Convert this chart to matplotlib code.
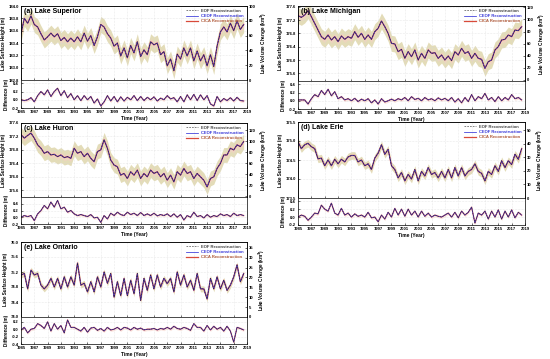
import numpy as np
import matplotlib.pyplot as plt

plt.rcParams['font.family'] = ['Liberation Sans', 'DejaVu Sans']
plt.rcParams['font.weight'] = 'bold'
plt.rcParams['axes.linewidth'] = 0.5

# semi-annual samples (Jan, Jul)
years = np.arange(1985, 2019, 0.5)

superior_h = [183.55, 183.80, 183.72, 183.84, 183.70, 183.66, 183.55, 183.45, 183.50, 183.56,
              183.50, 183.55, 183.44, 183.49, 183.42, 183.48, 183.42, 183.50, 183.42, 183.56,
              183.43, 183.52, 183.36, 183.50, 183.70, 183.66, 183.55, 183.48, 183.35, 183.40,
              183.19, 183.32, 183.16, 183.36, 183.24, 183.42, 183.18, 183.29, 183.21, 183.42,
              183.37, 183.40, 183.21, 183.26, 183.03, 183.14, 182.95, 183.22, 183.14, 183.32,
              183.19, 183.32, 183.11, 183.27, 183.11, 183.21, 183.03, 183.21, 183.02, 183.35,
              183.58, 183.66, 183.58, 183.72, 183.60, 183.76, 183.62, 183.70]
superior_d = [0.00, -0.02, 0.00, 0.05, -0.05, 0.10, 0.20, 0.12, 0.24, 0.08,
              0.20, 0.28, 0.10, 0.22, 0.05, 0.15, 0.00, 0.10, -0.02, 0.10,
              0.00, 0.08, -0.08, 0.02, -0.15, -0.05, 0.10, -0.03, 0.08, -0.05,
              0.07, -0.03, 0.06, 0.00, 0.10, -0.02, 0.08, -0.02, 0.06, 0.00,
              0.07, -0.03, 0.04, 0.00, 0.10, 0.02, 0.05, -0.05, 0.08, -0.05,
              0.12, 0.00, 0.13, -0.02, 0.12, 0.00, 0.10, -0.10, -0.15, 0.08,
              -0.05, 0.03, -0.02, 0.05, -0.03, 0.06, -0.02, -0.03]

michigan_h = [177.33, 177.28, 177.35, 177.48, 177.30, 177.10, 176.90, 176.70, 176.62, 176.75,
              176.60, 176.70, 176.55, 176.72, 176.62, 176.70, 176.65, 176.85, 176.68, 176.80,
              176.62, 176.75, 176.62, 176.85, 176.95, 177.17, 177.00, 176.80, 176.50, 176.48,
              176.25, 176.32, 176.05, 176.25, 176.10, 176.30, 176.00, 176.20, 176.05, 176.30,
              176.20, 176.22, 176.05, 176.15, 176.00, 176.12, 175.98, 176.25, 176.15, 176.35,
              176.20, 176.25, 176.05, 176.20, 176.05, 176.02, 175.75, 175.95, 176.00, 176.30,
              176.40, 176.60, 176.62, 176.75, 176.70, 176.90, 176.88, 177.00]
michigan_d = [0.02, 0.02, 0.02, -0.08, 0.05, 0.15, 0.10, 0.25, 0.15, 0.28,
              0.12, 0.22, 0.05, 0.10, 0.02, 0.05, 0.00, 0.06, -0.02, 0.04,
              0.00, 0.05, -0.05, 0.02, -0.08, 0.05, -0.03, 0.00, 0.04, 0.00,
              0.05, 0.02, 0.08, 0.00, 0.10, 0.03, 0.06, 0.00, 0.08, 0.02,
              0.05, 0.00, 0.07, 0.02, 0.06, 0.00, 0.08, -0.03, 0.05, -0.05,
              0.08, -0.02, 0.15, 0.00, 0.10, 0.05, 0.18, 0.02, 0.08, -0.02,
              0.10, 0.00, 0.08, 0.02, 0.15, 0.05, 0.08, 0.02]

huron_h = [177.25, 177.15, 177.23, 177.30, 177.15, 176.95, 176.85, 176.70, 176.75, 176.65,
           176.67, 176.60, 176.65, 176.57, 176.60, 176.55, 176.85, 176.70, 176.75, 176.60,
           176.70, 176.55, 176.45, 176.75, 176.80, 177.10, 176.85, 176.50, 176.35, 176.30,
           176.05, 176.10, 175.95, 176.15, 176.05, 176.20, 175.95, 176.10, 176.00, 176.20,
           176.10, 176.15, 176.00, 176.10, 175.90, 176.05, 175.85, 176.15, 176.05, 176.25,
           176.10, 176.15, 175.95, 176.10, 176.00, 175.90, 175.70, 175.95, 176.00, 176.25,
           176.40, 176.65, 176.65, 176.85, 176.80, 176.95, 176.90, 177.05]
huron_d = [0.00, 0.05, 0.02, 0.05, -0.10, 0.10, 0.20, 0.35, 0.25, 0.45,
           0.30, 0.50, 0.25, 0.30, 0.15, 0.20, 0.10, 0.05, 0.08, 0.05,
           0.02, 0.08, -0.02, 0.00, -0.15, 0.05, -0.05, 0.12, 0.05, 0.15,
           0.08, 0.05, 0.15, 0.08, 0.12, 0.05, 0.14, 0.05, 0.10, 0.05,
           0.12, 0.04, 0.08, 0.05, 0.10, 0.02, 0.10, 0.00, 0.08, -0.08,
           0.05, 0.00, 0.15, 0.02, 0.05, -0.02, 0.08, 0.00, 0.05, 0.02,
           0.10, 0.05, 0.08, 0.02, 0.12, 0.05, 0.08, 0.05]

erie_h = [174.98, 174.80, 174.90, 174.94, 174.85, 174.80, 174.53, 174.55, 174.35, 174.50,
          174.35, 174.52, 174.40, 174.52, 174.45, 174.58, 174.62, 174.62, 174.45, 174.50,
          174.35, 174.40, 174.25, 174.55, 174.68, 174.90, 174.65, 174.78, 174.35, 174.25,
          174.03, 174.17, 173.95, 174.12, 174.00, 174.25, 173.95, 174.20, 174.08, 174.30,
          174.12, 174.17, 174.03, 174.20, 174.03, 174.25, 174.03, 174.30, 174.08, 174.30,
          174.08, 174.20, 174.25, 174.40, 174.20, 174.15, 173.95, 174.20, 174.12, 174.35,
          174.20, 174.48, 174.30, 174.48, 174.38, 174.65, 174.52, 174.80]
erie_d = [0.00, 0.05, 0.02, -0.08, 0.00, 0.10, 0.08, 0.30, 0.20, 0.15,
          0.35, 0.10, 0.05, 0.22, 0.05, 0.10, 0.00, 0.08, 0.02, 0.05,
          0.00, 0.12, -0.02, 0.00, -0.12, 0.05, -0.05, 0.12, 0.00, 0.22,
          0.05, 0.20, 0.02, 0.20, 0.05, 0.15, 0.00, 0.15, 0.02, 0.10,
          0.00, 0.05, 0.02, 0.00, 0.05, 0.10, 0.00, 0.12, -0.02, 0.15,
          0.05, 0.12, 0.25, -0.15, 0.10, 0.05, 0.15, -0.05, 0.15, 0.00,
          0.18, -0.05, 0.15, 0.00, 0.18, -0.02, 0.12, 0.05]

ontario_h = [75.12, 75.16, 74.75, 75.25, 75.12, 75.16, 74.85, 74.75, 74.85, 75.03,
             74.80, 75.03, 74.75, 75.07, 74.80, 75.07, 74.85, 75.44, 74.85, 74.90,
             74.67, 74.94, 74.67, 75.07, 74.80, 75.20, 74.90, 75.16, 74.53, 74.94,
             74.57, 75.03, 74.57, 74.98, 74.62, 75.16, 74.44, 75.03, 74.71, 75.12,
             74.75, 75.12, 74.80, 75.03, 74.89, 75.03, 74.67, 75.20, 74.85, 75.12,
             74.80, 74.98, 74.71, 75.16, 74.75, 74.75, 74.48, 75.03, 74.75, 75.07,
             74.75, 74.98, 74.71, 74.85, 75.07, 75.39, 74.94, 75.16]
ontario_d = [-0.02, 0.05, -0.10, 0.00, 0.02, 0.15, 0.10, 0.02, 0.20, -0.05,
             0.15, 0.00, 0.10, -0.10, 0.25, 0.05, 0.05, 0.00, -0.05, 0.05,
             -0.08, 0.03, 0.05, -0.03, 0.02, -0.05, 0.05, -0.02, 0.00, 0.05,
             -0.02, 0.05, 0.03, -0.02, 0.05, 0.00, 0.03, -0.02, 0.00, 0.00,
             0.02, -0.02, 0.02, 0.00, 0.05, 0.00, 0.08, 0.02, 0.00, 0.05,
             0.02, -0.03, 0.15, 0.05, 0.05, -0.05, 0.10, -0.02, 0.08, 0.00,
             0.05, -0.05, 0.08, -0.05, -0.35, 0.05, 0.02, -0.02]

titles = ['(a) Lake Superior', '(b) Lake Michigan', '(c) Lake Huron', '(d) Lake Erie', '(e) Lake Ontario']

W, H = 550, 359
fig = plt.figure(figsize=(5.5, 3.59), dpi=100)


def box(x0, x1, y0, y1):
    return [x0 / W, 1 - y1 / H, (x1 - x0) / W, (y1 - y0) / H]


def style(ax):
    ax.tick_params(labelsize=3, length=1.5, width=0.4, direction='in', pad=1.5)
    ax.grid(color='#d8d8d8', ls=':', lw=0.4)
    for lab in ax.get_xticklabels() + ax.get_yticklabels():
        lab.set_fontweight('bold')


def panel(title, h, d, cols, rows, hlim, hticks, vlim, vticks, dlim, dticks, band):
    x0, x1 = cols
    top, mid, bot = rows
    h = np.array(h)
    ax = fig.add_axes(box(x0, x1, top, mid))
    ax.fill_between(years, h - band, h + band, color='#e3dcb8', lw=0)
    ax.fill_between(years, h - band * 0.4, h + band * 0.4, color='#f6cfc4', alpha=0.6, lw=0)
    ax.plot(years, h, color='#d84a3a', lw=0.9, label='CICA Reconstruction')
    ax.plot(years, h, color='#3636d8', lw=0.55, label='CEOF Reconstruction')
    ax.plot(years, h, color='#222222', lw=0.4, ls=(0, (3, 2)), label='EOF Reconstruction')
    ax.set_xlim(1985, 2019)
    ax.set_ylim(*hlim)
    ax.set_yticks(hticks)
    ax.set_yticklabels([f'{t:.1f}' for t in hticks])
    ax.set_xticks(np.arange(1985, 2020, 2))
    ax.set_ylabel('Lake Surface Height (m)', fontsize=3.3, fontweight='bold', labelpad=2)
    style(ax)
    ax.tick_params(labelbottom=False, labeltop=False)
    ax.text(0.015, 0.97, title, transform=ax.transAxes, fontsize=5, fontweight='bold', va='top')
    hd, lb = ax.get_legend_handles_labels()
    leg = ax.legend(hd[::-1], lb[::-1], loc='upper right', fontsize=3, frameon=False,
                    handlelength=3, borderaxespad=0.3, labelspacing=0.3)
    for t, c in zip(leg.get_texts(), ['#444444', '#3636d8', '#b05a3a']):
        t.set_color(c)

    vx = ax.twinx()
    vx.xaxis.set_visible(False)
    vx.set_ylim(*vlim)
    vx.set_yticks(vticks)
    vx.set_ylabel('Lake Volume Change (km$^3$)', fontsize=3.3, fontweight='bold', labelpad=2)
    vx.tick_params(labelsize=3, length=1.5, width=0.4, direction='in', pad=1.5)
    for lab in vx.get_yticklabels():
        lab.set_fontweight('bold')

    dx = fig.add_axes(box(x0, x1, mid, bot))
    d = np.array(d)
    dx.fill_between(years, d - 0.04, d + 0.04, color='#f6cfc4', alpha=0.5, lw=0)
    dx.plot(years, d, color='#d84a3a', lw=0.8)
    dx.plot(years, d, color='#3636d8', lw=0.5)
    dx.plot(years, d, color='#222222', lw=0.35, ls=(0, (3, 2)))
    dx.set_xlim(1985, 2019)
    dx.set_ylim(*dlim)
    dx.set_yticks(dticks)
    dx.set_yticklabels([f'{t:.1f}' for t in dticks])
    dx.set_xticks(np.arange(1985, 2020, 2))
    dx.set_ylabel('Difference (m)', fontsize=3.3, fontweight='bold', labelpad=2)
    dx.set_xlabel('Time (Year)', fontsize=3.5, fontweight='bold', labelpad=1.5)
    style(dx)


left = (21, 247)
right = (298, 525)

panel(titles[0], superior_h, superior_d, left, (6, 80, 108),
      (182.8, 184.0), np.arange(182.8, 184.01, 0.2), (0, 100), np.arange(0, 101, 20),
      (-0.2, 0.48), [-0.2, 0.0, 0.2, 0.4], 0.13)
panel(titles[1], michigan_h, michigan_d, right, (6, 81, 109),
      (175.37, 177.62), np.arange(175.6, 177.61, 0.4), (-1.7, 122.2), np.arange(0, 121, 20),
      (-0.2, 0.48), [-0.2, 0.0, 0.2, 0.4], 0.24)
panel(titles[2], huron_h, huron_d, left, (123, 197, 224),
      (175.4, 177.6), np.arange(175.6, 177.61, 0.4), (-1.2, 133.5), np.arange(0, 121, 20),
      (-0.2, 0.6), [-0.2, 0.0, 0.2, 0.4], 0.22)
panel(titles[3], erie_h, erie_d, right, (122, 198, 225),
      (173.5, 175.5), np.arange(173.5, 175.51, 0.5), (0, 56), np.arange(0, 51, 10),
      (-0.2, 0.48), [-0.2, 0.0, 0.2, 0.4], 0.1)
panel(titles[4], ontario_h, ontario_d, left, (242, 317, 344),
      (74.0, 76.0), np.arange(74.0, 76.01, 0.4), (0, 37.9), np.arange(0, 36, 5),
      (-0.4, 0.33), [-0.4, -0.2, 0.0, 0.2], 0.08)

fig.savefig('out.png', dpi=100)
